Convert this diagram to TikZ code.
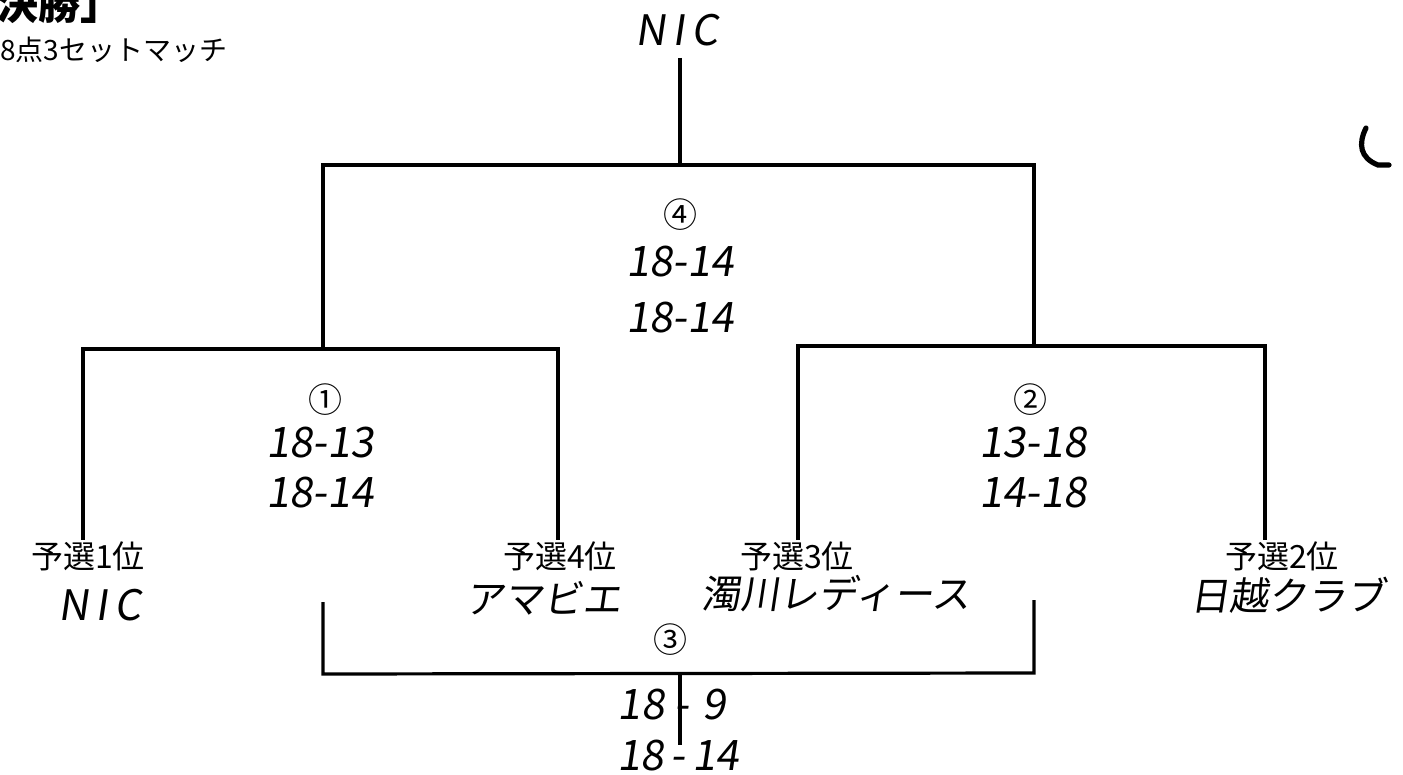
\documentclass[tikz,border=0pt]{standalone}
\usepackage{fontspec}
\setmainfont{Noto Sans CJK JP}
\newfontfamily\jp{Noto Sans CJK JP}
\newfontfamily\hand[FakeSlant=0.15]{Noto Sans CJK JP}
\begin{document}
\begin{tikzpicture}[x=0.5pt,y=-0.5pt,
  ln/.style={line width=1.6pt},
  title/.style={font=\jp\bfseries\fontsize{21}{24}\selectfont, inner sep=0},
  lab/.style={font=\jp\fontsize{16}{18}\selectfont, inner sep=0},
  rulelab/.style={font=\jp\fontsize{14}{16}\selectfont, inner sep=0},
  circ/.style={font=\jp\fontsize{17}{19}\selectfont, inner sep=0},
  score/.style={font=\hand\fontsize{21}{24}\selectfont, inner sep=0},
  team/.style={font=\hand\fontsize{19.5}{24}\selectfont, inner sep=0}]
\useasboundingbox (0,0) rectangle (1403,775);
% headings
\node[title, anchor=west] (ttl) at (-4,4) {決勝」};
\node[rulelab, anchor=west] (rule) at (0,50) {8点3セットマッチ};
\node[score] (champ) at (677,30) {N\,I\,C};
% tree coordinates
\coordinate (ctop) at (680,58);
\coordinate (cfin) at (680,165);
\coordinate (fl) at (323,165);
\coordinate (fr) at (1034,165);
\coordinate (s1) at (323,349);
\coordinate (s1l) at (83,349);
\coordinate (s1r) at (558,349);
\coordinate (s2) at (1034,346);
\coordinate (s2l) at (798,346);
\coordinate (s2r) at (1265,346);
\coordinate (e1) at (83,540);
\coordinate (e4) at (558,540);
\coordinate (e3) at (798,540);
\coordinate (e2) at (1265,540);
\coordinate (b1) at (323,602);
\coordinate (b1d) at (323,674);
\coordinate (b2) at (1034,600);
\coordinate (b2d) at (1034,673);
\coordinate (bm) at (680,673);
\coordinate (bd) at (680,745);
\draw[ln] (ctop) -- (cfin);
\draw[ln] (s1) |- (fl) -- (fr) -- (s2);
\draw[ln] (e1) -- (s1l) -- (s1r) -- (e4);
\draw[ln] (e3) -- (s2l) -- (s2r) -- (e2);
\draw[ln] (b1) -- (b1d) -- (b2d) -- (b2);
\draw[ln] (bm) -- (bd);
% match 4
\node[circ] (m4) at (680,215) {④};
\node[score] (m4a) at (680,262) {18-14};
\node[score] (m4b) at (680,318) {18-14};
% match 1
\node[circ] (m1) at (325,400) {①};
\node[score] (m1a) at (320,443) {18-13};
\node[score] (m1b) at (320,493) {18-14};
% match 2
\node[circ] (m2) at (1030,400) {②};
\node[score] (m2a) at (1033,443) {13-18};
\node[score] (m2b) at (1033,493) {14-18};
% match 3
\node[circ] (m3) at (670,640) {③};
\node[score] (m3a) at (672,705) {18\hspace{5pt}-\hspace{7pt}9};
\node[score] (m3b) at (678,756) {18\,-\,14};
% labels
\node[lab] (p1) at (88,556) {予選1位};
\node[lab] (p4) at (560,556) {予選4位};
\node[lab] (p3) at (797,556) {予選3位};
\node[lab] (p2) at (1282,556) {予選2位};
\node[score] (t1) at (100,605) {N\,I\,C};
\node[team] (t4) at (543,598) {アマビエ};
\node[team] (t3) at (836,594) {濁川レディース};
\node[team] (t2) at (1288,595) {日越クラブ};
% stray mark
\draw[line width=2.6pt, line cap=round] (1366,128) .. controls (1358,144) and (1360,158) .. (1378,165) -- (1389,165);
\end{tikzpicture}
\end{document}
